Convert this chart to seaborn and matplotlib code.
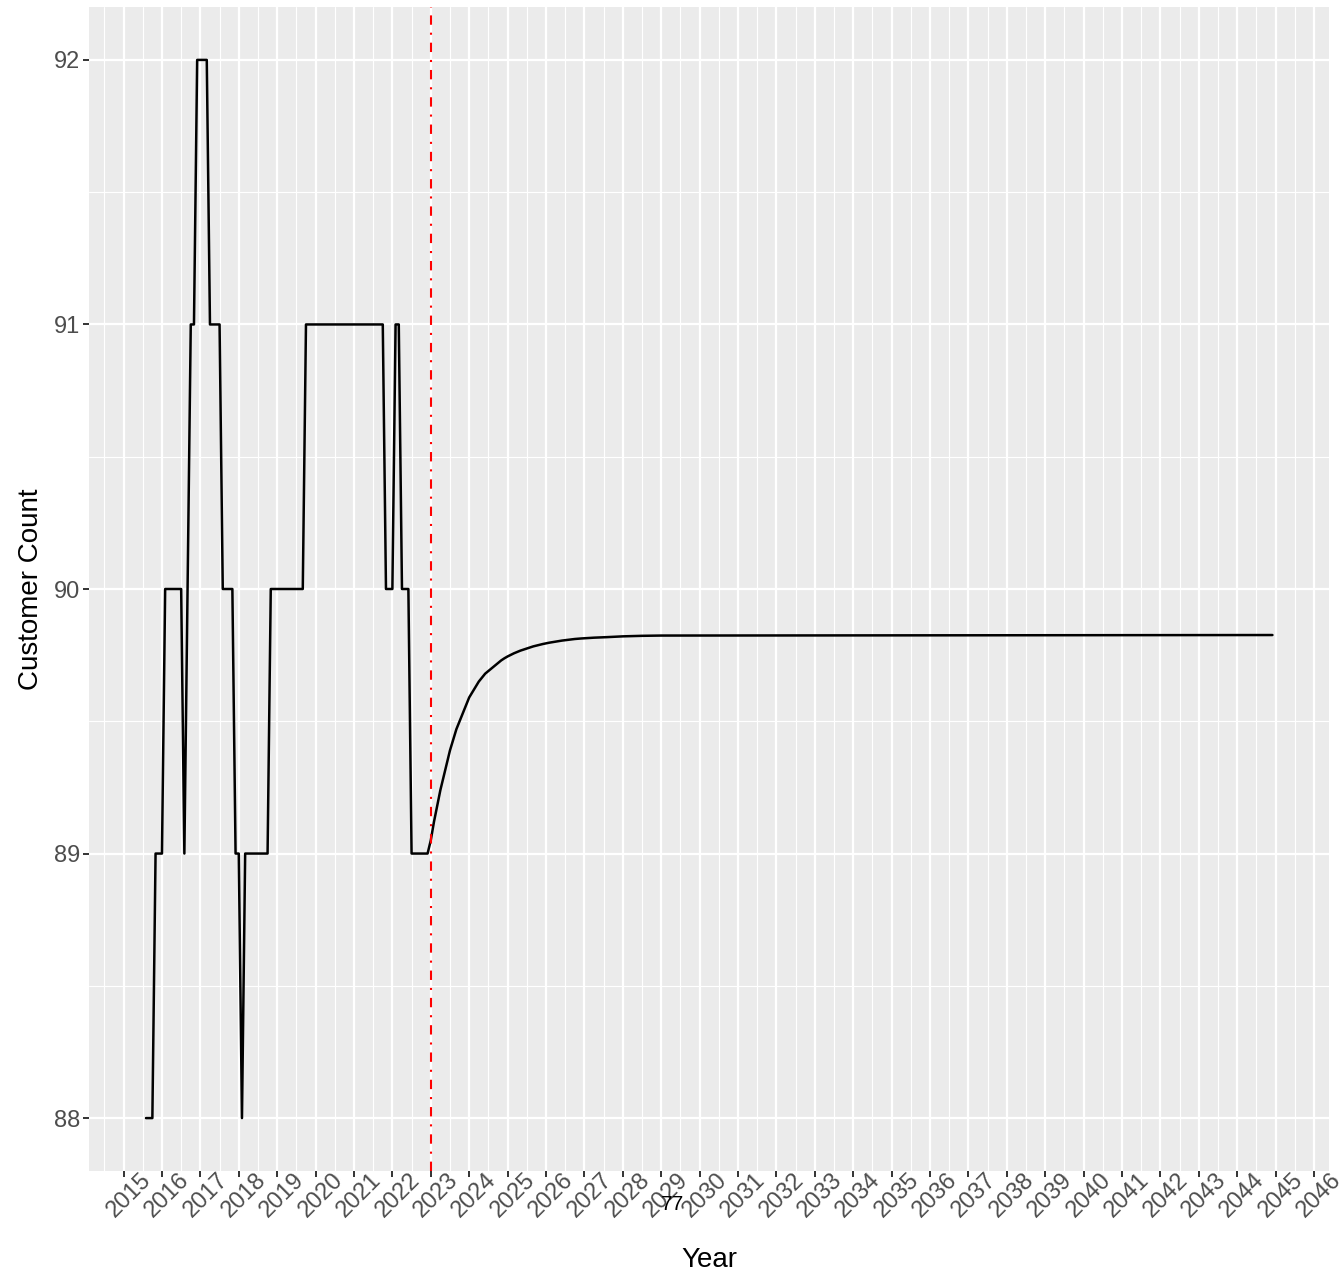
import matplotlib
matplotlib.use("Agg")
import matplotlib.pyplot as plt
import matplotlib.transforms as mtransforms
from matplotlib.ticker import MultipleLocator
import numpy as np
import pandas as pd
import seaborn as sns

# monthly customer count, Aug 2015 - Dec 2022
hist_start = "2015-08"
hist_values = [88, 88, 88, 89, 89,                      # 2015
               89, 90, 90, 90, 90, 90, 90, 89, 90, 91, 91, 92,   # 2016
               92, 92, 92, 91, 91, 91, 91, 90, 90, 90, 90, 89,   # 2017
               89, 88, 89, 89, 89, 89, 89, 89, 89, 89, 90, 90,   # 2018
               90, 90, 90, 90, 90, 90, 90, 90, 90, 91, 91, 91,   # 2019
               91, 91, 91, 91, 91, 91, 91, 91, 91, 91, 91, 91,   # 2020
               91, 91, 91, 91, 91, 91, 91, 91, 91, 91, 90, 90,   # 2021
               90, 91, 91, 90, 90, 90, 89, 89, 89, 89, 89, 89]   # 2022

# forecast
forecast_dates = ["2023-01", "2023-02", "2023-03", "2023-04", "2023-05", "2023-06",
                  "2023-07", "2023-08", "2023-09", "2023-10", "2023-11", "2023-12",
                  "2024-01", "2024-02", "2024-03", "2024-04", "2024-05", "2024-06",
                  "2024-07", "2024-08", "2024-09", "2024-10", "2024-11", "2024-12",
                  "2025-01", "2025-02", "2025-03", "2025-04", "2025-05", "2025-06",
                  "2025-07", "2025-08", "2025-09", "2025-10", "2025-11", "2025-12",
                  "2026-02", "2026-04", "2026-06", "2026-08", "2026-10", "2026-12",
                  "2027-04", "2027-08", "2028-01", "2028-07", "2029-01", "2044-12"]
forecast_values = [89.05, 89.12, 89.18, 89.24, 89.29, 89.34,
                   89.39, 89.43, 89.47, 89.50, 89.53, 89.56,
                   89.59, 89.61, 89.63, 89.65, 89.665, 89.68,
                   89.69, 89.70, 89.71, 89.72, 89.73, 89.738,
                   89.745, 89.751, 89.757, 89.762, 89.767, 89.771,
                   89.775, 89.779, 89.783, 89.786, 89.789, 89.792,
                   89.797, 89.801, 89.805, 89.808, 89.811, 89.813,
                   89.816, 89.818, 89.821, 89.823, 89.824, 89.826]

cutoff_year = 2023
tick_years = list(range(2015, 2047))
y_ticks = [88, 89, 90, 91, 92]

hist_dates = pd.date_range(hist_start, periods=len(hist_values), freq="MS")
df = pd.DataFrame({
    "date": list(hist_dates) + list(pd.to_datetime(forecast_dates)),
    "count": hist_values + forecast_values,
})
df["year"] = df["date"].dt.year + (df["date"].dt.month - 1) / 12

sns.set_theme(style="darkgrid", rc={
    "axes.facecolor": "#EBEBEB",
    "grid.color": "white",
    "axes.edgecolor": "none",
})
plt.rcParams["font.family"] = ["Liberation Sans", "DejaVu Sans"]

fig = plt.figure(figsize=(13.44, 12.76), dpi=100)
ax = fig.add_axes([89 / 1344, 1 - 1171 / 1276, 1240 / 1344, 1164 / 1276])

sns.lineplot(data=df, x="year", y="count", color="black", linewidth=1.8, ax=ax)
ax.axvline(cutoff_year, color="red", linewidth=1.5, linestyle=(0, (4.5, 3.8, 1.0, 3.8)))

ax.set_xlim(2014.10, 2046.39)
ax.set_ylim(87.8, 92.2)
ax.set_xticks(tick_years)
ax.set_xticklabels([str(y) for y in tick_years])
ax.set_yticks(y_ticks)
ax.xaxis.set_minor_locator(MultipleLocator(0.5))
ax.yaxis.set_minor_locator(MultipleLocator(0.5))
ax.grid(which="major", color="white", linewidth=1.6)
ax.grid(which="minor", color="white", linewidth=0.8)
ax.tick_params(which="major", length=4.5, width=1.4, color="#333333",
               labelcolor="#4D4D4D", labelsize=17, pad=2, bottom=True, left=True)
ax.tick_params(which="minor", length=0)

offset = mtransforms.ScaledTranslation(0.24, 0.03, fig.dpi_scale_trans)
for lab in ax.get_xticklabels():
    lab.set_rotation(45)
    lab.set_ha("right")
    lab.set_va("center")
    lab.set_rotation_mode("anchor")
    lab.set_transform(lab.get_transform() + offset)

ax.set_xlabel("Year", fontsize=20, color="black", labelpad=18)
ax.set_ylabel("Customer Count", fontsize=20, color="black", labelpad=7)

fig.text(672 / 1344, 1 - 1205 / 1276, "77", fontsize=15, color="black",
         ha="center", va="center")

fig.savefig("out.png", dpi=100)
